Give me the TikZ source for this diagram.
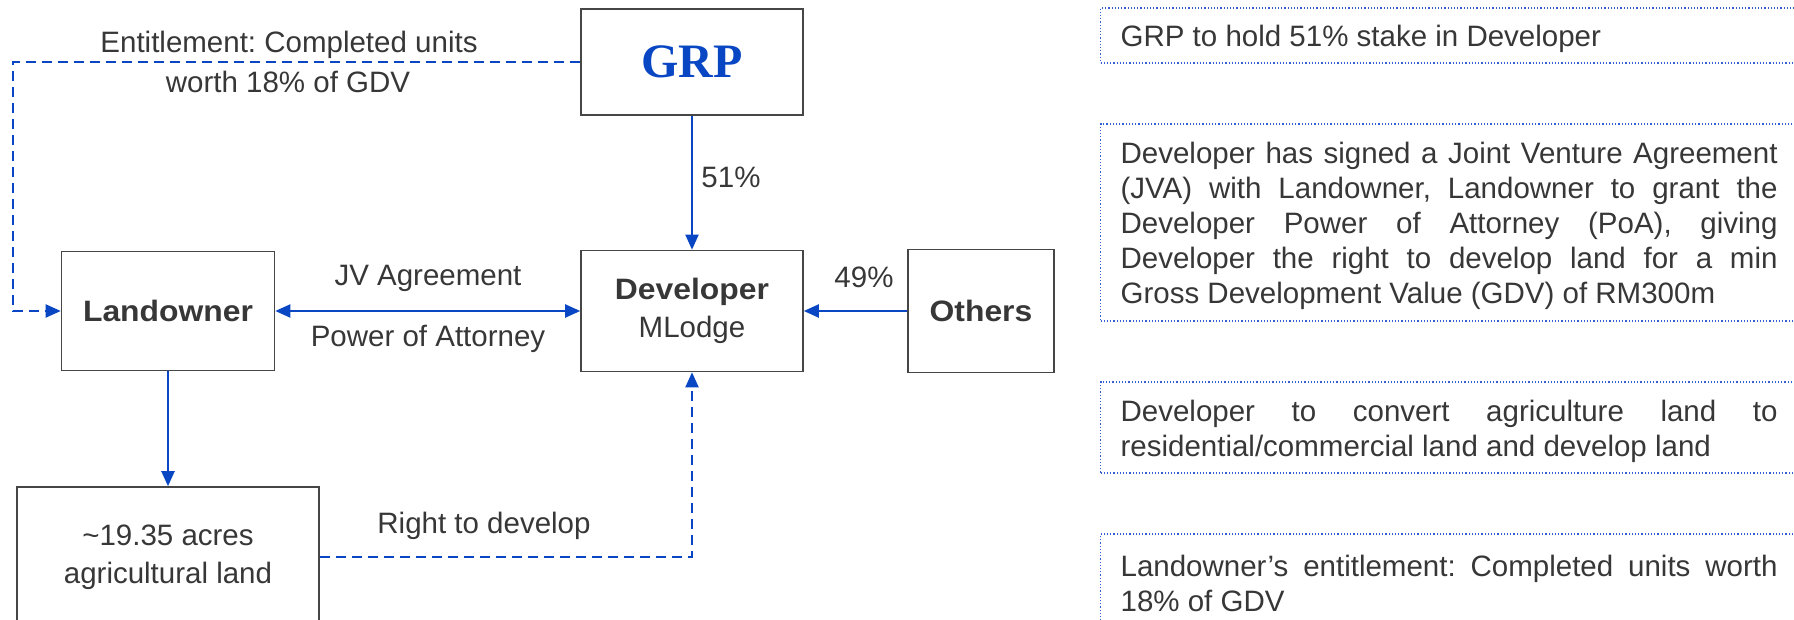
\documentclass[tikz,border=0pt]{standalone}
\usepackage{fontspec}
\setmainfont{Liberation Sans}[BoldFeatures={FakeStretch=1.08}]
\newfontfamily\grpfont{Liberation Serif}
\usetikzlibrary{arrows.meta}
\definecolor{lineblue}{RGB}{8,70,196}
\definecolor{noteblue}{RGB}{50,95,210}
\definecolor{txtgray}{RGB}{55,55,55}
\definecolor{boxgray}{RGB}{70,70,70}
\frenchspacing
\tolerance=9999
\hyphenpenalty=10000
\newcommand{\notestrut}{\rule{0pt}{14.5pt}}
\tikzset{
	block/.style    = {draw=boxgray, line width=0.8pt, rectangle, align=center,
		text=txtgray},
	note/.style     = {draw=noteblue, densely dotted, line width=0.6pt, rectangle,
		anchor=west, text width=328.5pt, inner xsep=10pt, inner ysep=0pt,
		align=justify, text=txtgray, font=\fontsize{14.75}{17.5}\selectfont},
	lbl/.style      = {text=txtgray},
	link/.style     = {lineblue, line width=1pt},
	entitle/.style  = {link, dash pattern=on 5pt off 3pt}
}

\begin{document}
\begin{tikzpicture}[x=0.5pt, y=-0.5pt, >={Triangle[length=7.5pt,width=6.5pt]},
	font=\fontsize{14.75}{19}\selectfont]
\useasboundingbox (0,0) rectangle (1794,620);
\clip (0,0) rectangle (1794,620);
\draw
node at (692,62) [block, minimum width=111pt, minimum height=53pt, text=lineblue,
	font=\grpfont\bfseries\fontsize{24}{24}\selectfont] (grp) {GRP}
node at (692,311) [block, minimum width=111pt, minimum height=60.5pt] (dev)
	{\textbf{Developer}\\MLodge}
node at (168,311) [block, minimum width=106.5pt, minimum height=59.5pt] (lown)
	{\textbf{Landowner}}
node at (981,311) [block, minimum width=73pt, minimum height=61.5pt] (oth)
	{\textbf{Others}}
node at (168,557) [block, minimum width=151pt, minimum height=70pt] (landarea)
	{\textasciitilde19.35 acres\\agricultural land};

% labels
\draw
node at (289,45) [lbl] (ent1) {Entitlement: Completed units}
node at (288,82) [lbl] (ent2) {worth 18\% of GDV}
node at (731,177) [lbl] (pct51) {51\%}
node at (428,278) [lbl] (jva) {JV Agreement}
node at (428,339) [lbl] (poa) {Power of Attorney}
node at (864,277) [lbl] (pct49) {49\%}
node at (484,526) [lbl] (rtd) {Right to develop};

% notes on the right
\draw
node at (1100,35.5) [note, minimum height=27.5pt] (n1)
	{\notestrut GRP to hold 51\% stake in Developer}
node at (1100,222.5) [note, minimum height=98.5pt] (n2)
	{\notestrut Developer has signed a Joint Venture Agreement\linebreak
	(JVA) with Landowner, Landowner to grant the\linebreak
	Developer Power of Attorney (PoA), giving\linebreak
	Developer the right to develop land for a min\linebreak
	Gross Development Value (GDV) of RM300m}
node at (1100,427.5) [note, minimum height=45.5pt] (n3)
	{\notestrut Developer to convert agriculture land to\linebreak
	residential/commercial land and develop land}
node at (1100,580) [note, minimum height=46pt] (n4)
	{\notestrut Landowner’s entitlement: Completed units worth\linebreak
	18\% of GDV};

\coordinate (bend) at (13,62);
\draw[link,->](grp)--(dev);
\draw[link,<->](lown)--(dev);
\draw[link,->](oth)--(dev);
\draw[link,->](lown)--(landarea);
\draw[entitle,->](grp.west)--(bend)|-(lown.west);
\draw[entitle,->](landarea.east)-|(dev.south);
\end{tikzpicture}
\end{document}
